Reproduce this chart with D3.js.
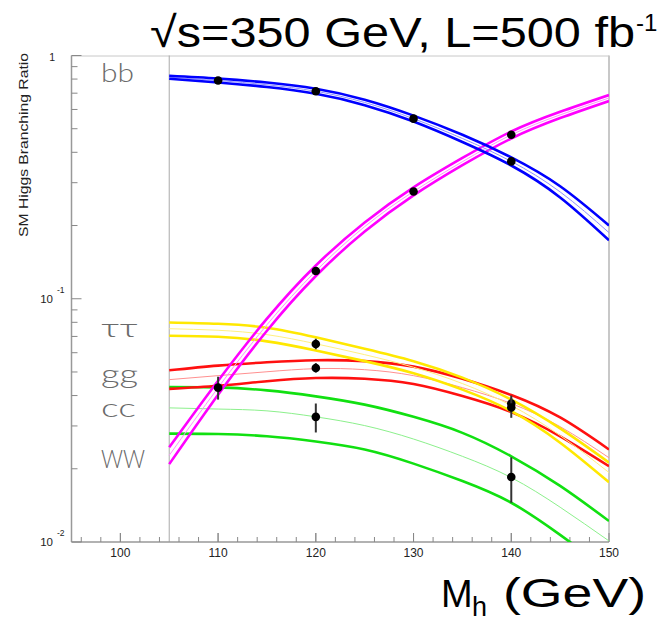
<!DOCTYPE html>
<html>
<head>
<meta charset="utf-8">
<script src="https://cdn.jsdelivr.net/npm/d3@7"></script>
<style>
  body { margin: 0; background: #fff; }
  svg { display: block; }
  .tick-label { font-family: "Liberation Sans", Arial, sans-serif; fill: #222; }
  .chan { font-family: Lato, "Open Sans", sans-serif; font-weight: 300; fill: #6a6a6a; }
</style>
</head>
<body>
<svg id="chart" width="659" height="622"></svg>
<script>
// Higgs mass grid (GeV) for the predicted bands
const masses = [105, 110, 115, 120, 125, 130, 135, 140, 145, 150];

// band edges and central value for each decay channel
const bbHi  = [0.825, 0.804, 0.774, 0.730, 0.658, 0.566, 0.472, 0.381, 0.290, 0.200];
const bbMid = [0.814, 0.789, 0.758, 0.713, 0.641, 0.550, 0.456, 0.367, 0.275, 0.187];
const bbLo  = [0.802, 0.775, 0.742, 0.696, 0.625, 0.535, 0.441, 0.353, 0.261, 0.174];

const wwHi  = [0.0245, 0.0460, 0.0828, 0.137, 0.206, 0.287, 0.379, 0.487, 0.587, 0.688];
const wwMid = [0.0227, 0.0431, 0.0782, 0.130, 0.198, 0.276, 0.366, 0.472, 0.570, 0.669];
const wwLo  = [0.0209, 0.0403, 0.0739, 0.124, 0.189, 0.266, 0.354, 0.456, 0.553, 0.650];

const tauHi  = [0.0799, 0.0789, 0.0760, 0.0694, 0.0623, 0.0554, 0.0474, 0.0385, 0.0293, 0.0212];
const tauMid = [0.0753, 0.0742, 0.0712, 0.0653, 0.0589, 0.0523, 0.0448, 0.0364, 0.0274, 0.0193];
const tauLo  = [0.0705, 0.0698, 0.0668, 0.0613, 0.0554, 0.0494, 0.0423, 0.0345, 0.0256, 0.0176];

const ggHi  = [0.0508, 0.0531, 0.0548, 0.0559, 0.0554, 0.0526, 0.0469, 0.0402, 0.0325, 0.0240];
const ggMid = [0.0465, 0.0483, 0.0501, 0.0516, 0.0511, 0.0483, 0.0431, 0.0371, 0.0298, 0.0222];
const ggLo  = [0.0426, 0.0439, 0.0458, 0.0472, 0.0469, 0.0446, 0.0398, 0.0342, 0.0272, 0.0205];

const ccHi  = [0.0434, 0.0432, 0.0420, 0.0397, 0.0367, 0.0327, 0.0281, 0.0225, 0.0170, 0.0122];
const ccMid = [0.0356, 0.0352, 0.0346, 0.0327, 0.0301, 0.0265, 0.0225, 0.0184, 0.0139, 0.0101];
const ccLo  = [0.0279, 0.0278, 0.0272, 0.0259, 0.0240, 0.0210, 0.0178, 0.0145, 0.0107, 0.00764];

// simulated measurements with their error bars
const measMass = [110, 120, 130, 140, 110, 120, 130, 140, 120, 140, 120, 140, 120, 140];
const measBR   = [0.789, 0.713, 0.550, 0.367, 0.0431, 0.130, 0.276, 0.472, 0.0652, 0.0371, 0.0519, 0.0357, 0.0327, 0.0185];
const measHi   = [0.789, 0.713, 0.550, 0.367, 0.0478, 0.130, 0.276, 0.472, 0.0685, 0.0400, 0.0544, 0.0392, 0.0371, 0.0223];
const measLo   = [0.789, 0.713, 0.550, 0.367, 0.0385, 0.130, 0.276, 0.472, 0.0620, 0.0344, 0.0497, 0.0324, 0.0282, 0.0145];

const xTicks = [100, 110, 120, 130, 140, 150];
const channelNames = ["bb", "\u03c4\u03c4", "gg", "cc", "WW"];

const svg = d3.select("#chart");

const x = d3.scaleLinear().domain([95, 150]).range([71.5, 609]);
const y = d3.scaleLog().domain([0.01, 1]).range([542, 55.5]);

// clip bands to the frame
svg.append("defs").append("clipPath").attr("id", "frame")
    .append("rect")
    .attr("x", x(95)).attr("y", y(1))
    .attr("width", x(150) - x(95)).attr("height", y(0.01) - y(1));

// frame
svg.append("line").attr("x1", x(95)).attr("x2", x(150)).attr("y1", y(1) + 0.5).attr("y2", y(1) + 0.5)
    .attr("stroke", "#c8c8c8").attr("stroke-width", 1);
svg.append("line").attr("x1", x(150)).attr("x2", x(150)).attr("y1", y(1)).attr("y2", y(0.01))
    .attr("stroke", "#c8c8c8").attr("stroke-width", 2);
svg.append("line").attr("x1", x(105)).attr("x2", x(105)).attr("y1", y(1)).attr("y2", y(0.01))
    .attr("stroke", "#aaa").attr("stroke-width", 1);
svg.append("line").attr("x1", x(95)).attr("x2", x(95)).attr("y1", y(1)).attr("y2", y(0.01))
    .attr("stroke", "#999").attr("stroke-width", 1.5);
svg.append("line").attr("x1", x(95)).attr("x2", x(150)).attr("y1", y(0.01)).attr("y2", y(0.01))
    .attr("stroke", "#999").attr("stroke-width", 1.5);

// x ticks: major every 10 GeV, minor every 2
const xg = svg.append("g");
d3.range(96, 150, 2).concat(xTicks).forEach(function(m) {
    const major = xTicks.indexOf(m) >= 0;
    xg.append("line")
        .attr("x1", x(m)).attr("x2", x(m))
        .attr("y1", y(0.01)).attr("y2", y(0.01) - (major ? 9 : 5))
        .attr("stroke", "#888").attr("stroke-width", 1);
});
xg.selectAll("text.xl").data(xTicks).enter().append("text")
    .attr("class", "tick-label")
    .attr("x", d => x(d)).attr("y", 557)
    .attr("text-anchor", "middle")
    .style("font-size", "12px")
    .text(d => d);

// y ticks (log decades)
const yg = svg.append("g");
[0.01, 0.1].forEach(function(dec) {
    for (let k = 1; k <= 9; k++) {
        const v = dec * k;
        yg.append("line")
            .attr("x1", x(95)).attr("x2", x(95) + (k === 1 ? 10 : 6))
            .attr("y1", y(v)).attr("y2", y(v))
            .attr("stroke", "#888").attr("stroke-width", 1);
    }
});
yg.append("line").attr("x1", x(95)).attr("x2", x(95) + 10)
    .attr("y1", y(1)).attr("y2", y(1)).attr("stroke", "#888");

yg.append("text").attr("class", "tick-label")
    .attr("x", 55).attr("y", y(1) + 5).attr("text-anchor", "end")
    .style("font-size", "10.5px").text("1");
[[0.1, "-1"], [0.01, "-2"]].forEach(function(p) {
    yg.append("text").attr("class", "tick-label")
        .attr("x", 53).attr("y", y(p[0]) + 4).attr("text-anchor", "end")
        .style("font-size", "11.5px").text("10");
    yg.append("text").attr("class", "tick-label")
        .attr("x", 57).attr("y", y(p[0]) - 6)
        .style("font-size", "8.5px").text(p[1]);
});

// axis titles
svg.append("text")
    .attr("transform", "translate(28," + 145 + ") rotate(-90)")
    .attr("text-anchor", "middle")
    .attr("textLength", 184).attr("lengthAdjust", "spacingAndGlyphs")
    .style("font-family", "Liberation Sans, Arial, sans-serif")
    .style("font-size", "12.5px").style("fill", "#222")
    .text("SM Higgs Branching Ratio");

const title = svg.append("text")
    .attr("y", 46.5)
    .style("font-family", "Liberation Sans, Arial, sans-serif")
    .style("font-size", "43px").style("fill", "#000");
title.append("tspan").attr("x", 150)
    .attr("textLength", 485).attr("lengthAdjust", "spacingAndGlyphs")
    .text("\u221as=350 GeV, L=500 fb");
title.append("tspan").attr("x", 636).attr("dy", -16).style("font-size", "24px").text("-1");

const xTitle = svg.append("g")
    .style("font-family", "Liberation Sans, Arial, sans-serif")
    .style("fill", "#000");
xTitle.append("text").attr("x", 441).attr("y", 607).style("font-size", "38px").text("M");
xTitle.append("text").attr("x", 472).attr("y", 616).style("font-size", "27px").text("h");
xTitle.append("text").attr("x", 503).attr("y", 607).style("font-size", "40px")
    .attr("textLength", 143).attr("lengthAdjust", "spacingAndGlyphs")
    .text("(GeV)");

// channel names in the left margin of the frame
const chanY = [82, 337, 383, 417, 468];
const chanW = [33, 37, 37, 35, 44];
svg.selectAll("text.chan").data(channelNames).enter().append("text")
    .attr("class", "chan")
    .attr("x", 101).attr("y", (d, i) => chanY[i])
    .attr("textLength", (d, i) => chanW[i]).attr("lengthAdjust", "spacingAndGlyphs")
    .style("font-size", "25px")
    .text(d => d);

// predicted bands
const line = d3.line()
    .x((d, i) => x(masses[i]))
    .y(d => y(d))
    .curve(d3.curveNatural);

const bands = [
    { hi: ccHi,  mid: ccMid,  lo: ccLo,  color: "#11e011", pale: "#8cf08c" },
    { hi: ggHi,  mid: ggMid,  lo: ggLo,  color: "#ff1010", pale: "#ff9090" },
    { hi: tauHi, mid: tauMid, lo: tauLo, color: "#ffe800", pale: "#fff080" },
    { hi: wwHi,  mid: wwMid,  lo: wwLo,  color: "#ff00ff", pale: "#ff90ff" },
    { hi: bbHi,  mid: bbMid,  lo: bbLo,  color: "#0000ff", pale: "#9090ff" }
];

const bandG = svg.append("g").attr("clip-path", "url(#frame)");
bands.forEach(function(b) {
    const g = bandG.append("g");
    g.append("path").attr("d", line(b.mid))
        .attr("fill", "none").attr("stroke", b.pale).attr("stroke-width", 1);
    [b.hi, b.lo].forEach(function(edge) {
        g.append("path").attr("d", line(edge))
            .attr("fill", "none").attr("stroke", b.color).attr("stroke-width", 2.6);
    });
});

// measurements
const meas = svg.append("g");
measMass.forEach(function(m, i) {
    if (measHi[i] !== measLo[i]) {
        meas.append("line")
            .attr("x1", x(m)).attr("x2", x(m))
            .attr("y1", y(measHi[i])).attr("y2", y(measLo[i]))
            .attr("stroke", "#333").attr("stroke-width", 2);
    }
    meas.append("circle")
        .attr("cx", x(m)).attr("cy", y(measBR[i]))
        .attr("r", 4.3).attr("fill", "#000");
});
</script>
</body>
</html>
